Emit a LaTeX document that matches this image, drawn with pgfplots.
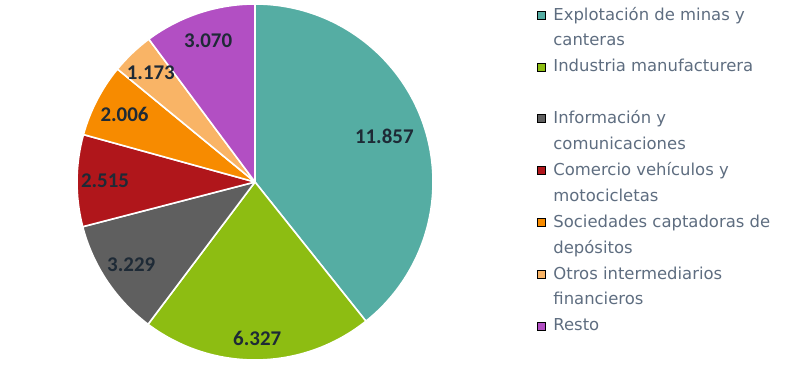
\documentclass[border=0pt]{standalone}
\usepackage{fontspec}
\setmainfont{DejaVu Sans}
\newfontfamily\legfont{DejaVu Sans}
\newfontfamily\labfont{Carlito}
\usepackage{pgfplots}
\usepackage{pgfplotstable}
\pgfplotsset{compat=1.18}

\definecolor{pc0}{HTML}{55ADA3}
\definecolor{pc1}{HTML}{8DBD12}
\definecolor{pc2}{HTML}{5F5F5F}
\definecolor{pc3}{HTML}{B0161B}
\definecolor{pc4}{HTML}{F78B00}
\definecolor{pc5}{HTML}{F9B466}
\definecolor{pc6}{HTML}{B24FC3}
\definecolor{labcol}{HTML}{1E2A36}
\definecolor{legcol}{HTML}{5E6D80}

% value = slice value; lr = distance of the data label from the centre (bp)
\pgfplotstableread{
value lr
11.857 137
6.327 156
3.229 149
2.515 150
2.006 147
1.173 151
3.070 149
}\piedata

\def\total{0}
\pgfplotsforeachungrouped \i in {0,...,6}{%
  \pgfplotstablegetelem{\i}{value}\of\piedata
  \pgfmathsetmacro\total{\total+\pgfplotsretval}%
}
\def\cum{0}
\pgfplotsforeachungrouped \i in {0,...,6}{%
  \pgfplotstablegetelem{\i}{value}\of\piedata
  \let\v\pgfplotsretval
  \expandafter\xdef\csname pieL\i\endcsname{\v}%
  \pgfmathsetmacro\s{90-360*\cum/\total}%
  \pgfmathsetmacro\cum{\cum+\v}%
  \pgfmathsetmacro\e{90-360*\cum/\total}%
  \pgfmathsetmacro\m{(\s+\e)/2}%
  \expandafter\xdef\csname pieS\i\endcsname{\s}%
  \expandafter\xdef\csname pieE\i\endcsname{\e}%
  \expandafter\xdef\csname pieM\i\endcsname{\m}%
  \pgfplotstablegetelem{\i}{lr}\of\piedata
  \expandafter\xdef\csname pieR\i\endcsname{\pgfplotsretval}%
}

\begin{document}
\begin{tikzpicture}
\begin{axis}[
  x=1bp, y=1bp,
  xmin=0, xmax=800, ymin=0, ymax=364,
  hide axis, clip=false,
  legend cell align=left,
  legend image code/.code={\fill[#1] (0bp,2bp) rectangle (8bp,10bp);},
  legend style={at={(axis cs:537,356)}, anchor=north west,
    draw=none, fill=none, inner sep=0pt, outer sep=0pt,
    row sep=0pt, column sep=8bp,
    font=\legfont\fontsize{16.5}{16.5}\selectfont, text=legcol,
    nodes={inner sep=0pt, outer sep=0pt, text height=12bp, text depth=13.9bp}},
]
\path (axis cs:0,0) rectangle (axis cs:800,364);
\pgfplotsinvokeforeach{0,...,6}{
  \fill[fill=pc#1, draw=white, line width=1.6bp, line join=round]
    (axis cs:255,182) -- ++(\csname pieS#1\endcsname:178bp)
    arc[start angle=\csname pieS#1\endcsname, end angle=\csname pieE#1\endcsname, radius=178bp] -- cycle;
}
\pgfplotsinvokeforeach{0,...,6}{
  \path (axis cs:255,182) ++(\csname pieM#1\endcsname:\csname pieR#1\endcsname bp)
    node[font=\labfont\bfseries\fontsize{21}{21}\selectfont, text=labcol, inner sep=0pt] {\csname pieL#1\endcsname};
}
\addlegendimage{fill=pc0}
\addlegendentry{Explotación de minas y}
\addlegendimage{empty legend}
\addlegendentry{canteras}
\addlegendimage{fill=pc1}
\addlegendentry{Industria manufacturera}
\addlegendimage{empty legend}
\addlegendentry{}
\addlegendimage{fill=pc2}
\addlegendentry{Información y}
\addlegendimage{empty legend}
\addlegendentry{comunicaciones}
\addlegendimage{fill=pc3}
\addlegendentry{Comercio vehículos y}
\addlegendimage{empty legend}
\addlegendentry{motocicletas}
\addlegendimage{fill=pc4}
\addlegendentry{Sociedades captadoras de}
\addlegendimage{empty legend}
\addlegendentry{depósitos}
\addlegendimage{fill=pc5}
\addlegendentry{Otros intermediarios}
\addlegendimage{empty legend}
\addlegendentry{financieros}
\addlegendimage{fill=pc6}
\addlegendentry{Resto}
\end{axis}
\end{tikzpicture}
\end{document}
